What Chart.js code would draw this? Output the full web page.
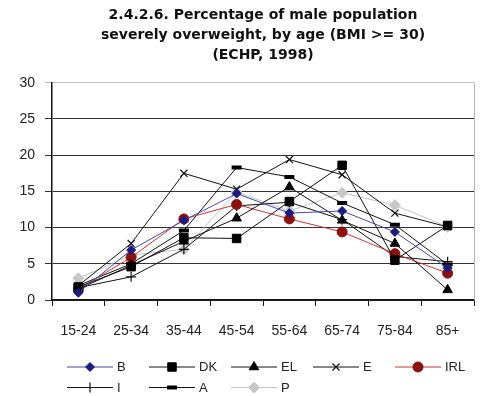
<!DOCTYPE html>
<html>
<head>
<meta charset="utf-8">
<script src="https://cdn.jsdelivr.net/npm/chart.js@4/dist/chart.umd.min.js"></script>
<style>
  html, body { margin: 0; padding: 0; background: #fff; }
  #wrap { width: 483px; height: 396px; }
</style>
</head>
<body>
<div id="wrap"><canvas id="chart"></canvas></div>
<script>
// Age bands on the x axis
const ageGroups = ['15-24', '25-34', '35-44', '45-54', '55-64', '65-74', '75-84', '85+'];

// Share of men with BMI >= 30, percent, per country
const valuesB   = [1.0, 6.9, 11.0, 14.7, 12.0, 12.3, 9.4, 4.4];
const valuesDK  = [1.8, 4.6, 8.6, 8.5, 13.6, 18.6, 5.5, 10.3];
const valuesEL  = [1.5, 4.8, 8.1, 11.3, 15.6, 11.0, 7.8, 1.4];
const valuesE   = [2.0, 7.8, 17.5, 15.3, 19.4, 17.3, 12.0, 10.1];
const valuesIRL = [1.5, 5.9, 11.2, 13.2, 11.2, 9.4, 6.4, 3.7];
const valuesI   = [1.7, 3.2, 7.0, 13.0, 13.5, 11.1, 6.0, 5.3];
const valuesA   = [2.0, 5.0, 9.6, 18.3, 17.0, 13.4, 10.4, 4.9];
const valuesP   = [3.0, 6.2, 7.0, 14.9, 12.3, 14.8, 13.1, 10.1];

const countryNames = ['B', 'DK', 'EL', 'E', 'IRL', 'I', 'A', 'P'];
const countryValues = [valuesB, valuesDK, valuesEL, valuesE, valuesIRL, valuesI, valuesA, valuesP];

const yTicks = [0, 5, 10, 15, 20, 25, 30];

// line + marker look for each series
const looks = {
  B:   { line: '#4848a8', fill: '#1c1c80', stroke: '#1c1c80', style: 'rectRot',  r: 4.5, bw: 1 },
  DK:  { line: '#111111', fill: '#000000', stroke: '#000000', style: 'rect',     r: 6,   bw: 1 },
  EL:  { line: '#111111', fill: '#000000', stroke: '#000000', style: 'triangle', r: 5.5, bw: 1 },
  E:   { line: '#111111', fill: '#000000', stroke: '#111111', style: 'crossRot', r: 5,   bw: 1.2 },
  IRL: { line: '#c83434', fill: '#8c1010', stroke: '#8c1010', style: 'circle',   r: 5,   bw: 1 },
  I:   { line: '#111111', fill: '#000000', stroke: '#111111', style: 'cross',    r: 5,   bw: 1.2 },
  A:   { line: '#111111', fill: '#000000', stroke: '#000000', style: 'line',     r: 5,   bw: 4 },
  P:   { line: '#c4c4c4', fill: '#c8c8c8', stroke: '#c8c8c8', style: 'rectRot',  r: 5.5, bw: 1 }
};

const datasets = countryNames.map((name, i) => {
  const lk = looks[name];
  return {
    label: name,
    data: countryValues[i],
    borderColor: lk.line,
    borderWidth: 1,
    pointStyle: lk.style,
    pointRadius: lk.r,
    pointHoverRadius: lk.r,
    pointBackgroundColor: lk.fill,
    pointBorderColor: lk.stroke,
    pointBorderWidth: lk.bw,
    tension: 0,
    fill: false
  };
});

// legend laid out on a fixed grid, plus the light frame on the right of the plot
const frameAndLegend = {
  id: 'frameAndLegend',
  beforeDatasetsDraw(chart) {
    const { ctx, chartArea } = chart;
    ctx.save();
    ctx.strokeStyle = '#b4b4b4';
    ctx.lineWidth = 1;
    ctx.beginPath();
    ctx.moveTo(chartArea.right + 0.5, chartArea.top);
    ctx.lineTo(chartArea.right + 0.5, chartArea.bottom);
    ctx.stroke();
    ctx.restore();
  },
  afterDraw(chart, args, opts) {
    const ctx = chart.ctx;
    chart.data.datasets.forEach((ds, i) => {
      const col = i % opts.columns;
      const row = Math.floor(i / opts.columns);
      const x = opts.left + col * opts.pitch;
      const y = opts.top + row * opts.rowHeight;
      ctx.save();
      ctx.strokeStyle = ds.borderColor;
      ctx.lineWidth = 1;
      ctx.beginPath();
      ctx.moveTo(x, y);
      ctx.lineTo(x + opts.lineLength, y);
      ctx.stroke();
      ctx.fillStyle = ds.pointBackgroundColor;
      ctx.strokeStyle = ds.pointBorderColor;
      ctx.lineWidth = ds.pointBorderWidth;
      Chart.helpers.drawPoint(ctx, {
        pointStyle: ds.pointStyle,
        radius: ds.pointRadius,
        borderWidth: ds.pointBorderWidth,
        rotation: 0
      }, x + opts.lineLength / 2, y);
      ctx.fillStyle = '#222';
      ctx.font = opts.font;
      ctx.textBaseline = 'middle';
      ctx.textAlign = 'left';
      ctx.fillText(ds.label, x + opts.lineLength + 4, y + 0.5);
      ctx.restore();
    });
  }
};

const tickFont = { family: 'Liberation Sans, Arial, sans-serif', size: 14 };

new Chart(document.getElementById('chart'), {
  type: 'line',
  data: { labels: ageGroups, datasets },
  plugins: [frameAndLegend],
  options: {
    responsive: true,
    maintainAspectRatio: false,
    animation: false,
    layout: { padding: { left: 0, right: 5, top: 0, bottom: 58 } },
    plugins: {
      legend: { display: false },
      tooltip: { enabled: false },
      title: {
        display: true,
        fullSize: false,
        text: ['2.4.2.6. Percentage of male population',
               'severely overweight, by age (BMI >= 30)',
               '(ECHP, 1998)'],
        color: '#111',
        font: { family: 'DejaVu Sans, sans-serif', size: 14, weight: 'bold', lineHeight: 1.4 },
        padding: { top: 6, bottom: 18 }
      },
      frameAndLegend: {
        columns: 5,
        left: 67,
        pitch: 82,
        top: 367,
        rowHeight: 20.5,
        lineLength: 46,
        font: '13px "Liberation Sans", Arial, sans-serif'
      }
    },
    scales: {
      x: {
        offset: true,
        afterFit: (axis) => { axis.height = 38; },
        grid: {
          offset: true,
          drawOnChartArea: false,
          tickLength: 6,
          color: '#111'
        },
        border: { color: '#111', width: 1.5 },
        ticks: {
          color: '#222',
          padding: 17,
          maxRotation: 0,
          autoSkip: false,
          font: tickFont
        }
      },
      y: {
        min: 0,
        max: 30,
        afterBuildTicks: (axis) => { axis.ticks = yTicks.map(v => ({ value: v })); },
        afterFit: (axis) => { axis.width = 52; },
        grid: {
          color: (c) => (c.tick && c.tick.value === 30 ? '#bdbdbd' : '#333'),
          lineWidth: 1,
          tickLength: 7
        },
        border: { color: '#111', width: 1.5 },
        ticks: {
          color: '#222',
          padding: 10,
          font: tickFont
        }
      }
    }
  }
});
</script>
</body>
</html>
